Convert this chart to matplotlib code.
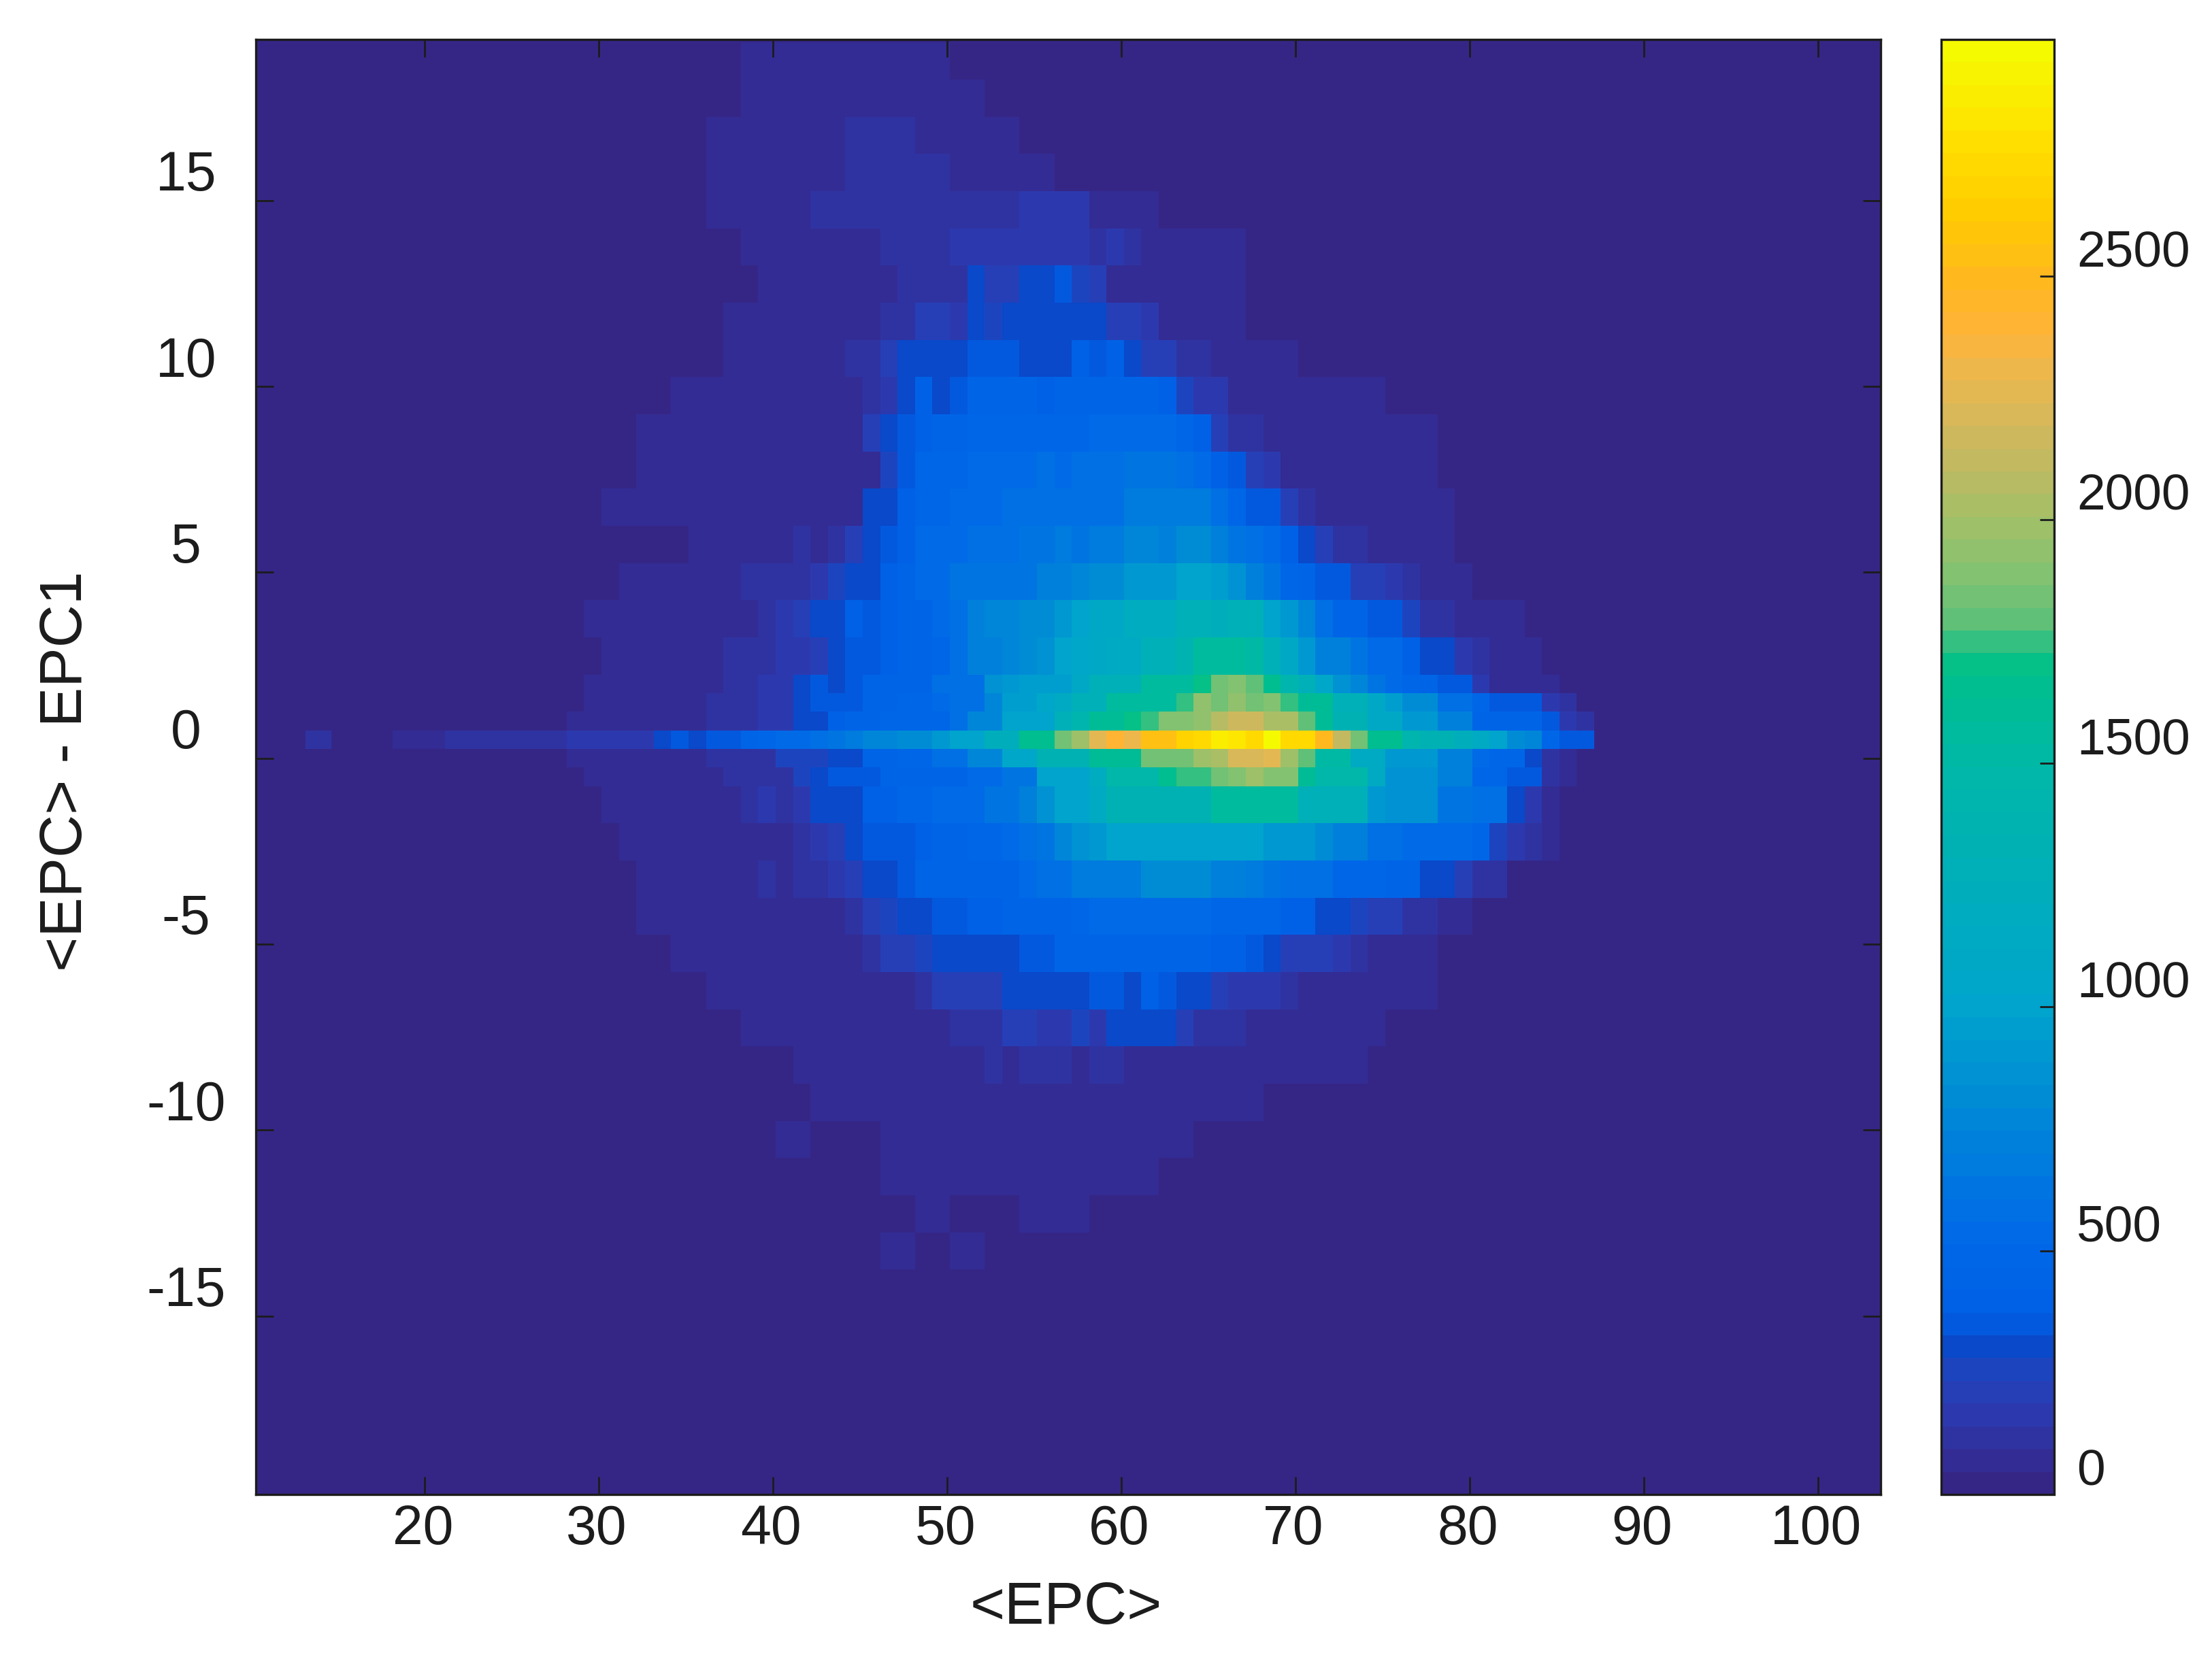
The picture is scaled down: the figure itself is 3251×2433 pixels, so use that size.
import numpy as np
import matplotlib
matplotlib.use("Agg")
import matplotlib.pyplot as plt
from matplotlib.colors import LinearSegmentedColormap, Normalize
from matplotlib.transforms import ScaledTranslation

plt.rcParams['font.family'] = ['Liberation Sans', 'DejaVu Sans']
plt.rcParams['axes.unicode_minus'] = False

# ---- outer rows, read on a two-unit grid: columns are <EPC> = 27, 29, ... 87
y_top_centres = [18.75, 17.75, 16.75, 15.75, 14.75]
r_18 = [0,0,0,0,0,0,50,60,70,60,60,50,40,0,0,0,0,0,0,0,0,0,0,0,0,0,0,0,0,0,0]
r_17 = [0,0,0,0,0,40,60,70,70,80,80,70,50,0,0,0,0,0,0,0,0,0,0,0,0,0,0,0,0,0,0]
r_16 = [0,0,0,0,0,50,70,80,80,100,100,90,70,60,30,0,0,0,0,0,0,0,0,0,0,0,0,0,0,0,0]
r_15 = [0,0,0,0,0,50,70,80,90,100,110,110,90,80,70,40,0,0,0,0,0,0,0,0,0,0,0,0,0,0,0]
r_14 = [0,0,0,0,0,50,70,80,100,110,110,120,110,130,170,170,70,50,40,0,0,0,0,0,0,0,0,0,0,0,0]

y_bottom_centres = [-9.25, -10.25, -11.25, -12.25, -13.25]
r_m9 = [0,0,0,0,0,0,0,20,50,50,50,55,65,70,65,65,65,60,55,50,50,40,0,0,0,0,0,0,0,0,0]
r_m10 = [0,0,0,0,0,0,0,60,15,30,50,50,50,55,55,55,55,50,50,35,0,0,0,0,0,0,0,0,0,0,0]
r_m11 = [0,0,0,0,0,0,0,0,0,25,50,50,50,50,50,50,50,50,20,0,0,0,0,0,0,0,0,0,0,0,0]
r_m12 = [0,0,0,0,0,0,0,0,0,25,0,50,30,30,50,50,20,0,0,0,0,0,0,0,0,0,0,0,0,0,0]
r_m13 = [0,0,0,0,0,0,0,0,0,0,50,0,50,15,0,0,0,0,0,0,0,0,0,0,0,0,0,0,0,0,0]

# ---- inner rows, read on the one-unit grid: (first bin n, values for n, n+1, ...)
y_upper_centres = [13.75, 12.75, 11.75, 10.75, 9.75, 8.75, 7.75, 6.75, 5.75, 4.75, 3.75, 2.75]
f_13 = (38, [55,55,55,60,70,70,80,90,100,100,100,100,140,180,175,150,170,140,170,170,120,170,100,70,70,60,55,55,55])
f_12 = (36, [25,30,40,50,55,55,55,50,55,80,80,115,115,125,125,305,205,210,305,305,340,240,210,90,85,85,70,55,50,50,50,30])
f_11 = (35, [25,30,55,55,55,55,55,55,70,85,90,100,120,210,195,180,305,275,285,285,325,280,325,290,215,195,160,60,60,55,50,50,25,25,25])
f_10 = (35, [25,25,50,50,50,50,52,55,60,120,120,200,280,300,300,320,370,345,370,325,325,325,385,370,385,315,225,225,130,110,70,70,50,50,50,40,40,25])
f_09 = (34, [50,50,50,50,50,50,50,50,52,55,60,115,170,280,405,320,355,425,425,450,450,400,445,445,445,435,435,430,410,260,170,160,70,65,55,55,50,50,50,50,50,25,30])
f_08 = (32, [50,50,50,50,50,55,55,60,55,60,65,80,70,190,280,330,400,465,465,480,480,480,480,490,500,470,520,520,525,525,525,480,410,215,105,105,85,75,70,68,60,50,50,50,55,50])
f_07 = (32, [50,50,50,50,50,60,55,60,60,60,60,75,85,90,240,370,495,495,495,555,555,555,555,590,545,590,590,600,615,615,615,575,530,400,340,195,180,90,80,70,65,57,57,57,50,50])
f_06 = (29, [30,50,50,50,50,50,50,50,50,55,60,60,68,68,85,80,290,325,390,505,505,540,540,540,565,565,585,585,605,605,590,680,680,670,670,670,585,480,350,335,225,130,87,77,62,60,57,55,50,47,20])
f_05 = (32, [45,45,45,50,55,55,70,72,72,100,75,95,190,290,335,385,540,540,550,575,575,600,620,640,665,620,685,660,750,750,735,830,830,710,615,580,520,380,320,200,100,97,80,85,70,53,50,25])
f_04 = (27, [45,20,35,35,62,62,62,62,70,80,90,100,100,100,135,175,235,290,320,375,455,535,535,625,625,625,635,640,725,725,755,815,815,915,915,915,990,990,940,870,720,650,510,460,360,370,190,190,140,135,70,50,50,25])
f_03 = (28, [40,50,50,50,50,60,70,70,60,60,80,95,170,225,280,315,375,340,405,440,460,520,600,720,760,780,800,825,900,1000,1100,1100,1200,1200,1200,1275,1275,1250,1275,1275,1000,925,750,580,450,450,350,340,240,135,135,78,78,65,50,30])
f_02 = (27, [30,40,40,50,50,60,65,70,80,90,100,100,115,170,170,210,305,350,350,390,425,440,500,580,700,735,785,835,860,980,1050,1100,1150,1125,1300,1300,1375,1550,1575,1550,1530,1275,1100,900,730,725,635,545,515,405,285,285,185,110,75,75,50,25])

y_lower_centres = [-1.25, -2.25, -3.25, -4.25, -5.25, -6.25, -7.25, -8.25]
f_m1 = (28, [40,45,50,55,60,65,70,80,85,90,100,160,120,185,285,290,315,415,400,475,475,540,540,540,650,650,710,885,1000,1000,1150,1325,1325,1325,1325,1325,1325,1540,1540,1540,1540,1540,1275,1275,1275,1275,910,875,875,875,650,650,565,565,290,150,75,40])
f_m2 = (29, [30,45,50,55,60,65,70,75,80,85,90,90,115,155,205,305,330,345,355,390,425,425,475,475,535,585,640,780,850,900,1000,1000,1000,1000,1000,1000,1000,1000,1000,925,925,925,825,725,725,600,600,540,540,540,540,475,260,175,135,60,40])
f_m3 = (29, [35,35,35,62,62,70,68,70,82,82,100,80,105,120,160,225,305,305,340,450,420,465,465,465,465,550,600,600,675,675,675,675,800,800,800,800,725,725,660,610,580,580,580,490,490,490,465,425,325,325,215,130,100,45])
f_m4 = (32, [52,52,52,52,52,55,60,70,75,78,78,90,120,225,265,290,300,360,360,385,385,450,450,450,450,480,520,540,540,540,540,540,520,490,490,490,490,405,405,315,285,240,195,195,120,100,70,60,30])
f_m5 = (33, [25,50,50,50,50,50,50,60,62,62,65,65,100,200,200,255,325,280,285,320,310,355,355,435,435,450,455,455,455,455,455,455,410,375,340,290,210,210,200,140,110,75,70,60,60,30,30])
f_m6 = (35, [25,50,50,50,50,50,50,50,52,55,78,85,85,105,190,190,190,200,280,280,310,310,300,350,345,320,385,350,300,280,205,170,170,170,100,80,80,62,62,55,50,50,50,25])
f_m7 = (37, [25,48,48,48,48,50,50,55,55,78,80,55,85,110,110,110,190,190,185,180,270,165,305,305,305,280,200,115,105,105,70,75,75,60,55,50,50,50,25])
f_m8 = (38, [15,25,40,50,50,50,50,57,58,58,68,68,68,68,100,68,108,108,108,68,108,108,85,85,85,68,68,68,68,58,50,50,50,50,50,50,25])

# ---- rows next to the ridge: <EPC> bin n = 26 ... 86
row_c = [0,40,45,50,55,60,70,70,70,80,90,100,110,170,170,280,330,320,350,430,430,430,430,600,600,600,850,900,950,950,950,1100,1300,1300,1300,1550,1550,1550,1700,1850,1880,1800,1650,1400,1300,1050,850,750,650,550,500,420,350,330,150,90,90,60,50,0,0]
row_b = [0,40,45,50,55,60,70,70,75,85,95,100,110,170,170,280,350,350,370,420,450,480,500,550,600,600,750,950,950,1050,1150,1300,1300,1550,1550,1550,1550,1750,1950,1850,1950,1850,1900,1750,1620,1620,1300,1300,1100,950,800,800,600,600,480,350,350,350,180,100,0]
row_a = [40,45,50,55,55,60,70,75,80,90,100,105,120,170,170,280,280,380,420,420,480,480,480,480,600,750,750,1000,1000,1000,1300,1400,1620,1620,1700,1750,1900,1900,1950,2080,2180,2180,2030,2030,1780,1600,1350,1350,1100,1100,900,900,700,700,450,450,450,450,330,170,100]
row_d = [0,0,50,55,60,60,65,75,80,85,95,100,110,110,260,260,260,300,300,420,420,480,480,600,600,750,750,1050,1050,1350,1350,1350,1620,1620,1620,1850,1850,1850,2000,2050,2200,2200,2250,2000,1800,1500,1500,1150,1150,900,900,900,700,700,550,480,480,300,120,60,0]
row_e = [0,0,45,50,55,60,60,70,75,80,90,95,100,110,110,260,300,340,340,340,430,430,430,430,430,520,520,620,620,1000,1000,1000,1200,1450,1450,1450,1650,1750,1750,1850,1900,2000,1900,1900,1600,1450,1450,1450,1150,850,850,850,700,700,500,500,330,330,100,70,0]

# ---- the ridge itself: <EPC> bin n = 18 ... 86
ridge = [90,90,90,100,100,110,120,120,130,130,140,150,160,170,180,300,350,320,330,360,420,
         500,550,550,600,620,680,780,780,800,800,900,1000,1000,1250,1250,1650,1650,1850,2000,2250,2400,2300,
         2520,2560,2680,2720,2850,2820,2750,2985,2750,2750,2500,2100,1850,1650,1650,1400,1350,1350,1250,1150,1000,800,750,500,350,350]
ridge_outlier = [100]

vmax = 2985
cb_ticks = [0, 500, 1000, 1500, 2000, 2500]
x_ticks = [20, 30, 40, 50, 60, 70, 80, 90, 100]
y_ticks = [-15, -10, -5, 0, 5, 10, 15]
x_limits = (10.3, 103.6)
y_limits = (-19.8, 19.33)

stops = [(0, '#352686'), (47, '#332c94'), (100, '#2f34a4'), (170, '#2a3db4'), (240, '#1c44bf'), (280, '#0a48c8'),
         (350, '#005fe6'), (500, '#0068e8'), (750, '#0085d8'), (1000, '#00a5cc'), (1500, '#00b8a8'), (1700, '#00c088'),
         (1750, '#30c080'), (1800, '#60c078'), (1900, '#85c270'), (2000, '#a0c068'), (2150, '#c8b860'),
         (2300, '#e8b850'), (2400, '#ffb338'), (2500, '#ffb820'), (2650, '#ffcc00'), (2800, '#ffe000'),
         (2985, '#f5fa00')]
cmap = LinearSegmentedColormap.from_list('epc', [(v / vmax, c) for v, c in stops], N=64)
norm = Normalize(0, vmax)


def place(row):
    start, vals = row
    out = np.zeros(61)
    out[start - 26:start - 26 + len(vals)] = vals
    return out


W, H = 3251, 2433
fig = plt.figure(figsize=(W / 100, H / 100), dpi=100, facecolor='white')
ax = fig.add_axes([376 / W, 1 - 2197 / H, (2764 - 376) / W, (2197 - 58) / H])
cax = fig.add_axes([2853 / W, 1 - 2197 / H, (3019 - 2853) / W, (2197 - 58) / H])
ax.set_facecolor(cmap(0))

coarse_x = 26.15 + 2 * np.arange(32)
fine_x = 26.15 + np.arange(62)
ridge_x = 18.15 + np.arange(70)

kw = dict(cmap=cmap, norm=norm, shading='flat', linewidth=0)
top = np.array([r_18, r_17, r_16, r_15, r_14])
bottom = np.array([r_m9, r_m10, r_m11, r_m12, r_m13])
upper_f = np.array([place(r) for r in (f_13, f_12, f_11, f_10, f_09, f_08, f_07, f_06, f_05, f_04, f_03, f_02)])
lower_f = np.array([place(r) for r in (f_m1, f_m2, f_m3, f_m4, f_m5, f_m6, f_m7, f_m8)])

m = ax.pcolormesh(coarse_x, np.r_[np.array(y_top_centres) + 0.5, 14.25], top, **kw)
ax.pcolormesh(coarse_x, np.r_[np.array(y_bottom_centres) + 0.5, -13.75], bottom, **kw)
ax.pcolormesh(fine_x, np.r_[np.array(y_upper_centres) + 0.5, 2.25], upper_f, **kw)
ax.pcolormesh(fine_x, np.r_[np.array(y_lower_centres) + 0.5, -8.75], lower_f, **kw)
ax.pcolormesh(fine_x, [2.25, 1.75, 1.25, 0.75], np.array([row_c, row_b, row_a]), **kw)
ax.pcolormesh(fine_x, [0.25, -0.25, -0.75], np.array([row_d, row_e]), **kw)
ax.pcolormesh(ridge_x, [0.25, 0.75], np.array([ridge]), **kw)
ax.pcolormesh([13.15, 14.65], [0.25, 0.75], np.array([ridge_outlier]), **kw)

ax.set_xlim(*x_limits)
ax.set_ylim(*y_limits)
ax.set_xticks(x_ticks)
ax.set_yticks(y_ticks)
ink = '#1c1c1c'
ax.tick_params(axis='both', which='major', direction='in', top=True, right=True,
               length=18.5, width=2.0, color=ink, labelcolor=ink)
ax.tick_params(axis='x', labelsize=58, pad=10)
ax.tick_params(axis='y', labelsize=58, pad=74)
up44 = ScaledTranslation(0, 44 / 100, fig.dpi_scale_trans)
for lab in ax.get_yticklabels():
    lab.set_horizontalalignment('center')
    lab.set_transform(lab.get_transform() + up44)
left3 = ScaledTranslation(-3 / 100, 0, fig.dpi_scale_trans)
for lab in ax.get_xticklabels():
    lab.set_transform(lab.get_transform() + left3)
for s in ax.spines.values():
    s.set_linewidth(2.4)
    s.set_color(ink)
    s.set_zorder(5)

cb = fig.colorbar(m, cax=cax, ticks=cb_ticks)
cb.ax.tick_params(direction='in', right=True, left=False, length=15, width=2.0,
                  color=ink, labelcolor=ink, labelsize=54, pad=24)
up41 = ScaledTranslation(0, 41 / 100, fig.dpi_scale_trans)
for lab in cb.ax.get_yticklabels():
    lab.set_transform(lab.get_transform() + up41)
cb.outline.set_linewidth(2.4)
cb.outline.set_edgecolor(ink)

fig.text(1567 / W, 1 - 2365 / H, '<EPC>', fontsize=63, color=ink, ha='center', va='center')
fig.text(98 / W, 1 - 1134 / H, '<EPC> - EPC1', fontsize=63, color=ink, ha='center', va='center', rotation=90)

fig.savefig('out.png', dpi=100, facecolor='white')
